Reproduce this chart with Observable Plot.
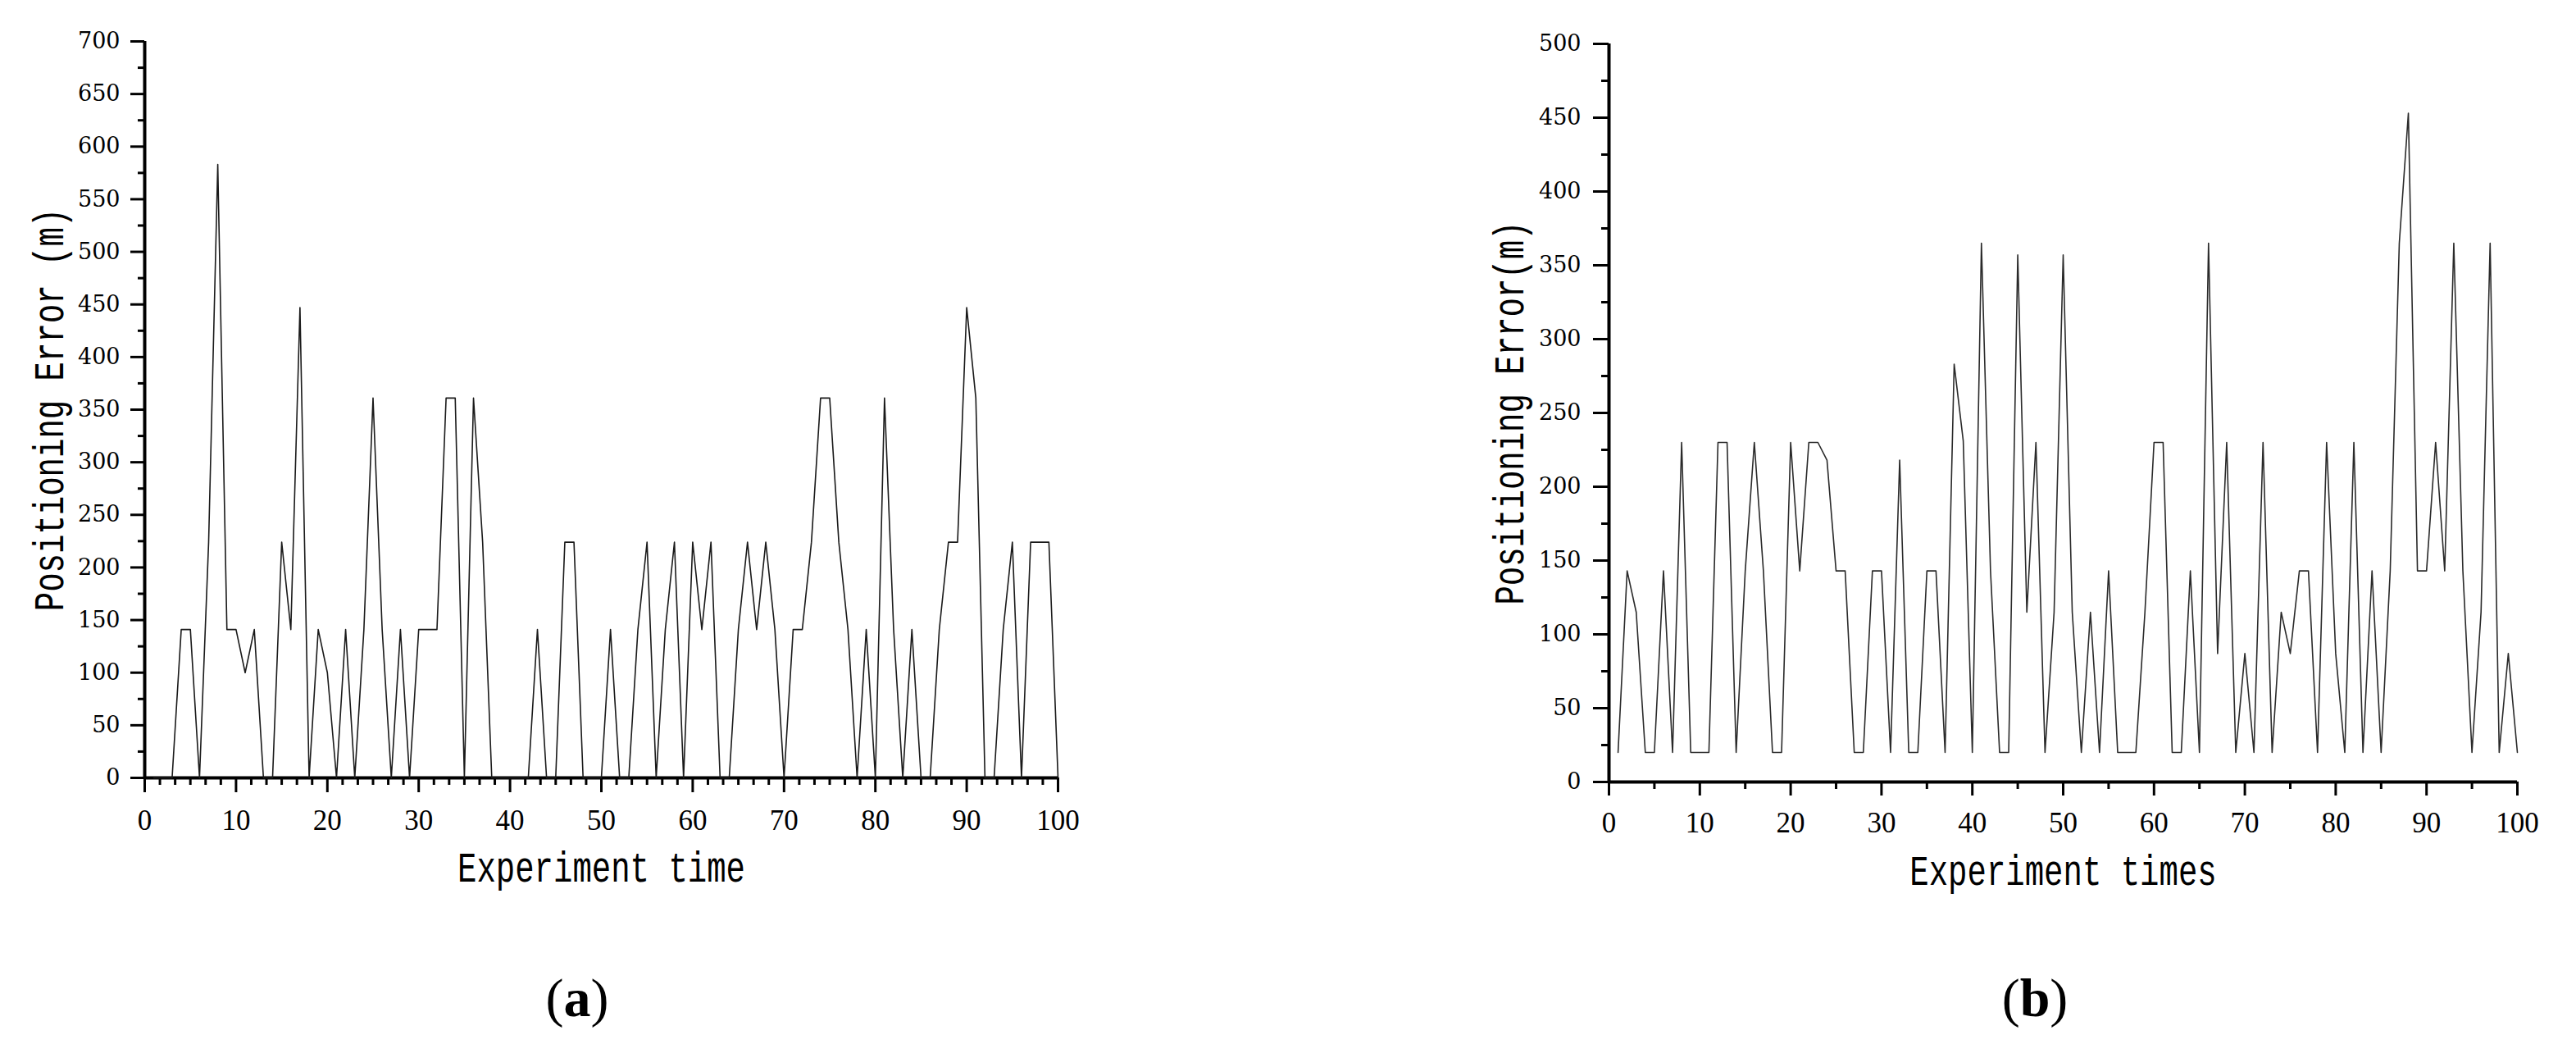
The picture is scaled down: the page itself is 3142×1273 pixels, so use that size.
<!DOCTYPE html>
<html><head><meta charset="utf-8">
<script src="https://cdn.jsdelivr.net/npm/d3@7"></script>
<script src="https://cdn.jsdelivr.net/npm/@observablehq/plot@0.6"></script>
<style>
html,body{margin:0;padding:0;background:#fff;}
#wrap{position:relative;width:3142px;height:1273px;overflow:hidden;background:#fff;}
.panel{position:absolute;top:0;width:1571px;}
.cap{position:absolute;top:1172px;width:200px;height:90px;line-height:90px;text-align:center;font-family:"Liberation Serif",serif;font-size:66px;color:#000;}
.cap b{font-weight:bold;}
.panel svg g[aria-label="y-axis tick label"]{font-family:"DejaVu Serif",serif !important;}
.panel svg g[aria-label="x-axis tick label"]{font-family:"Liberation Serif",serif !important;}
.panel svg g[aria-label="text"]{font-family:"Liberation Mono",monospace !important;}
</style></head><body>
<div id="wrap">
  <div id="pa" class="panel" style="left:0"></div>
  <div id="pb" class="panel" style="left:1571px"></div>
  <div class="cap" style="left:604px">(<b>a</b>)</div>
  <div class="cap" style="left:2382px">(<b>b</b>)</div>
</div>
<script>
// ---- Data: positioning error per experiment (index 1..100) ----
const errorA = [0,0,0,141,141,0,224,583,141,141,
  100,141,0,0,224,141,447,0,141,100,
  0,141,0,141,361,141,0,141,0,141,
  141,141,361,361,0,361,224,0,0,0,
  0,0,141,0,0,224,224,0,0,0,
  141,0,0,141,224,0,141,224,0,224,
  141,224,0,0,141,224,141,224,141,0,
  141,141,224,361,361,224,141,0,141,0,
  361,141,0,141,0,0,141,224,224,447,
  361,0,0,141,224,0,224,224,224,0];

const errorB = [20,143,115,20,20,143,20,230,20,20,
  20,230,230,20,143,230,143,20,20,230,
  143,230,230,218,143,143,20,20,143,143,
  20,218,20,20,143,143,20,283,231,20,
  365,143,20,20,357,115,230,20,115,357,
  115,20,115,20,143,20,20,20,115,230,
  230,20,20,143,20,365,87,230,20,87,
  20,230,20,115,87,143,143,20,230,87,
  20,230,20,143,20,143,365,453,143,143,
  230,143,365,143,20,115,365,20,87,20];

// ---- Axis ticks and titles ----
const yTicksA = [0,50,100,150,200,250,300,350,400,450,500,550,600,650,700];
const yMinorA = [25,75,125,175,225,275,325,375,425,475,525,575,625,675];
const yTicksB = [0,50,100,150,200,250,300,350,400,450,500];
const yMinorB = [25,75,125,175,225,275,325,375,425,475];
const xTicks = [0,10,20,30,40,50,60,70,80,90,100];
const xMinorA = d3.range(0, 61).filter(i => i % 6 !== 0).map(i => i * 10 / 6);
const xMinorB = [5,15,25,35,45,55,65,75,85,95];
const xTitleA = "Experiment time";
const xTitleB = "Experiment times";
const yTitleA = "Positioning Error (m)";
const yTitleB = "Positioning Error(m)";

const rowsA = errorA.map((e, i) => ({t: i + 1, e}));
const rowsB = errorB.map((e, i) => ({t: i + 1, e}));

const W = 1571, H = 1110;

function makePanel(o) {
  return Plot.plot({
    width: W, height: H,
    marginLeft: o.ml, marginRight: o.mr, marginTop: o.mt, marginBottom: o.mb,
    x: {domain: [0, 100], label: null},
    y: {domain: [0, o.yMax], label: null},
    style: {background: "white", color: "#000", fontFamily: "Liberation Serif", overflow: "visible"},
    marks: [
      Plot.axisY({ticks: o.yTicks, tickSize: o.ytl, tickPadding: o.ytp, strokeWidth: 3,
        fontSize: 27, fontFamily: "DejaVu Serif", label: null, tickFormat: d => String(d)}),
      Plot.axisY({ticks: o.yMinor, tickSize: o.ytl2, strokeWidth: 3, tickFormat: () => "", label: null}),
      Plot.axisX({ticks: xTicks, tickSize: o.xtl, tickPadding: o.xtp, strokeWidth: 3,
        fontSize: 35, fontFamily: "Liberation Serif", label: null, tickFormat: d => String(d)}),
      Plot.axisX({ticks: o.xMinor, tickSize: o.xtl2, strokeWidth: 3, tickFormat: () => "", label: null}),
      Plot.ruleX([0], {stroke: "#000", strokeWidth: 4}),
      Plot.ruleY([0], {stroke: "#000", strokeWidth: 4}),
      Plot.line(o.rows, {x: "t", y: "e", stroke: o.lineColor, strokeWidth: 1.6}),
      Plot.text([o.xTitle], {frameAnchor: "bottom", dy: o.xdy, textAnchor: "middle", lineAnchor: "middle",
        fontSize: 39, fontFamily: "Liberation Mono", fill: "#000"}),
      Plot.text([o.yTitle], {frameAnchor: "left", dx: o.ydx, rotate: -90, textAnchor: "middle", lineAnchor: "middle",
        fontSize: 39, fontFamily: "Liberation Mono", fill: "#000"})
    ]
  });
}

const chartA = makePanel({rows: rowsA, yMax: 700, yTicks: yTicksA, yMinor: yMinorA, xMinor: xMinorA,
  ml: 176, mr: 281, mt: 50, mb: H - 948, ytl: 17, ytl2: 8, ytp: 13, xtl: 18, xtl2: 9, xtp: 21,
  xTitle: xTitleA, yTitle: yTitleA, xdy: 110, ydx: -116, lineColor: "#1a1a1a"});
const chartB = makePanel({rows: rowsB, yMax: 500, yTicks: yTicksB, yMinor: yMinorB, xMinor: xMinorB,
  ml: 391, mr: 72, mt: 53, mb: H - 953, ytl: 19, ytl2: 9, ytp: 15, xtl: 17, xtl2: 9, xtp: 20,
  xTitle: xTitleB, yTitle: yTitleB, xdy: 109, ydx: -121, lineColor: "#2a2a2a"});

function stretchTitles(svg) {
  svg.querySelectorAll('g[aria-label="text"] text').forEach(t => {
    let tr = t.getAttribute("transform");
    if (!tr) {
      const x = t.getAttribute("x") || 0, y = t.getAttribute("y") || 0;
      t.removeAttribute("x"); t.removeAttribute("y");
      tr = `translate(${x},${y})`;
    }
    t.setAttribute("transform", tr + " scale(1,1.35)");
  });
}
stretchTitles(chartA);
stretchTitles(chartB);
document.getElementById("pa").appendChild(chartA);
document.getElementById("pb").appendChild(chartB);
</script>
</body></html>
